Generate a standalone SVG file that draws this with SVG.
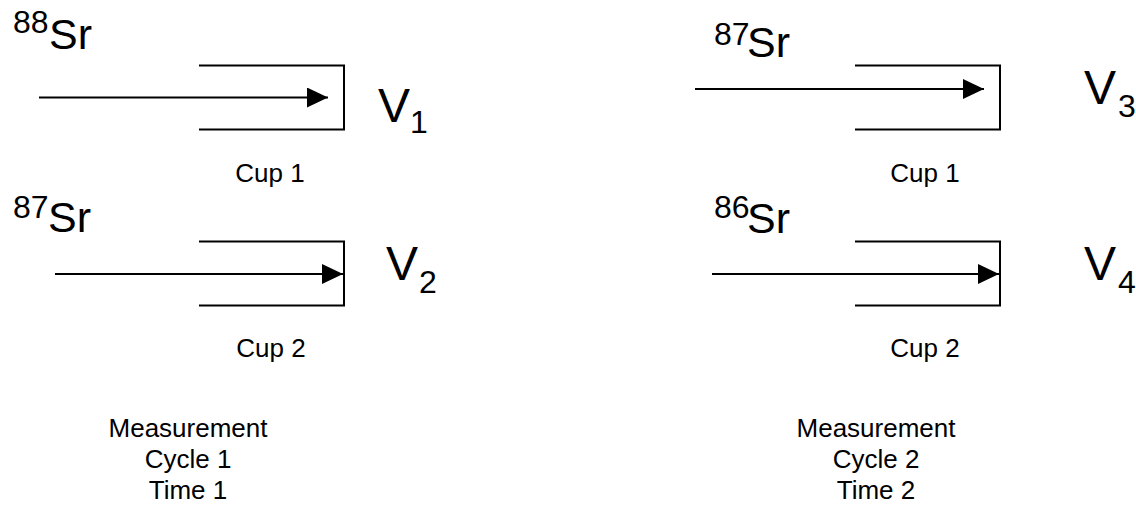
<svg xmlns="http://www.w3.org/2000/svg" width="1136" height="505" viewBox="0 0 1136 505">
<style>
text{font-family:"Liberation Sans",Arial,sans-serif;fill:#000}
.big{font-size:43px}
.v{font-size:48px}
.sup{font-size:32px}
.sm{font-size:26px}
.cup{fill:none;stroke:#000;stroke-width:2}
.ar{stroke:#000;stroke-width:2;marker-end:url(#ah)}
</style>
<defs>
<marker id="ah" markerUnits="userSpaceOnUse" markerWidth="21" markerHeight="20" refX="21" refY="10" orient="auto">
<path d="M0,0 L21,10 L0,20 Z" fill="#000"/>
</marker>
</defs>
<rect width="1136" height="505" fill="#fff"/>
<g id="cup1-left">
<path class="cup" d="M199,65.5 H344 V129.5 H199"/>
<text class="sup" x="13" y="33">88</text><text class="big" x="49" y="49">Sr</text>
<text class="v" x="378" y="122">V</text><text class="sup" x="410" y="133">1</text>
<text class="sm" x="270" y="182" text-anchor="middle">Cup 1</text>
</g>
<g id="cup2-left">
<path class="cup" d="M199,241.5 H344 V305.5 H199"/>
<text class="sup" x="13" y="218">87</text><text class="big" x="48" y="232">Sr</text>
<text class="v" x="386" y="280">V</text><text class="sup" x="419" y="293">2</text>
<text class="sm" x="271" y="357" text-anchor="middle">Cup 2</text>
</g>
<g id="cup1-right">
<path class="cup" d="M855,65.5 H1000 V129.5 H855"/>
<text class="sup" x="714" y="45">87</text><text class="big" x="747" y="57">Sr</text>
<text class="v" x="1084" y="104">V</text><text class="sup" x="1118" y="117">3</text>
<text class="sm" x="925" y="182" text-anchor="middle">Cup 1</text>
</g>
<g id="cup2-right">
<path class="cup" d="M855,241.5 H1000 V305.5 H855"/>
<text class="sup" x="714" y="218">86</text><text class="big" x="747" y="233">Sr</text>
<text class="v" x="1084" y="280">V</text><text class="sup" x="1118" y="293">4</text>
<text class="sm" x="925" y="357" text-anchor="middle">Cup 2</text>
</g>
<g id="caption-1">
<text class="sm" x="188" y="437" text-anchor="middle">Measurement</text>
<text class="sm" x="188" y="468" text-anchor="middle">Cycle 1</text>
<text class="sm" x="188" y="499" text-anchor="middle">Time 1</text>
</g>
<g id="caption-2">
<text class="sm" x="876" y="437" text-anchor="middle">Measurement</text>
<text class="sm" x="876" y="468" text-anchor="middle">Cycle 2</text>
<text class="sm" x="876" y="499" text-anchor="middle">Time 2</text>
</g>
<g id="connectors">
<line class="ar" x1="39" y1="97.5" x2="328" y2="97.5"/>
<line class="ar" x1="55" y1="274" x2="343" y2="274"/>
<line class="ar" x1="695" y1="89" x2="984" y2="89"/>
<line class="ar" x1="712" y1="274" x2="999" y2="274"/>
</g>
</svg>
